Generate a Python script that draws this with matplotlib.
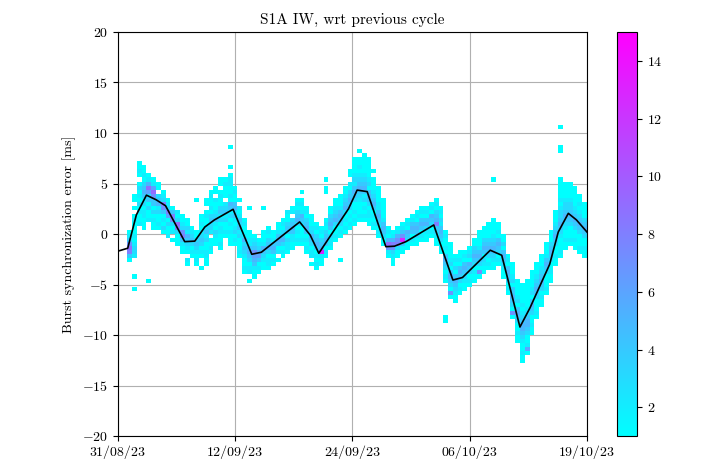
import datetime as dt
import numpy as np
import matplotlib
matplotlib.use("Agg")
import matplotlib.pyplot as plt
import matplotlib.dates as mdates

plt.rcParams['font.family'] = 'serif'
plt.rcParams['font.serif'] = ['cmr10']
plt.rcParams['mathtext.fontset'] = 'cm'
plt.rcParams['axes.formatter.use_mathtext'] = True

# start of the time axis
t0 = dt.datetime(2023, 8, 31)
t1 = dt.datetime(2023, 10, 19)

# mean line (days since 31/08/23, error in ms)
line_days = [0.0, 1.05, 1.95, 3.0, 4.0, 5.0, 7.0, 8.05, 9.1, 10.1, 12.05, 14.0, 15.0,
             19.0, 20.1, 21.0, 24.1, 25.0, 26.05, 28.0, 28.9, 30.1, 33.0, 35.0, 36.0,
             38.9, 40.1, 42.0, 43.05, 45.1, 46.0, 47.05, 47.9, 49.0]
line_vals = [-1.7, -1.4, 1.9, 3.85, 3.4, 2.8, -0.75, -0.7, 0.7, 1.4, 2.45, -2.0, -1.8,
             1.2, -0.1, -1.9, 2.5, 4.35, 4.2, -1.25, -1.2, -0.75, 0.9, -4.55, -4.3,
             -1.6, -2.1, -9.2, -7.3, -3.0, 0.2, 2.05, 1.4, 0.2]

# 2D histogram columns: (day of column start, lowest bin [ms], counts upward per 0.4 ms)
# '.' = empty, digits and a-f = counts
hist_cols = [
    (1.0, -2.8, "14897421"),
    (1.5, -5.6, "1..1....23321211121.1.11"),
    (2.0, 0.8, "21121312131.1211"),
    (2.5, 0.4, "1112213245431211"),
    (3.0, -4.8, "1.............." + "211314369521"),
    (3.5, 0.4, "1121314479621"),
    (4.0, 0.4, "121132543.11"),
    (4.5, 0.0, "13121478321"),
    (5.0, -0.4, "2113168321"),
    (5.5, -0.8, "1.2137841"),
    (6.0, -1.2, "111389312"),
    (6.5, -2.0, "1124873211"),
    (7.0, -3.2, "12.123452311"),
    (7.5, -2.4, "12134321"),
    (8.0, -3.2, "12123431" + "1" + "......." + "1"),
    (8.5, -3.6, "1..12134321211"),
    (9.0, -3.2, "11221132431121.11"),
    (9.5, -2.0, "1211.23343121121"),
    (10.0, -1.2, "112312432112.11"),
    (10.5, -1.6, "121122132431121.11"),
    (11.0, -0.4, "121132432.11121"),
    (11.5, -1.2, "111212132451211221" + ".1....1"),
    (12.0, -1.2, "121321243541121"),
    (12.5, -2.4, "1211132434212.1"),
    (13.0, -4.0, "12112343521121"),
    (13.5, -4.8, "1.22134542211" + ".....1"),
    (14.0, -4.4, "11245674321"),
    (14.5, -4.0, "121465321"),
    (15.0, -3.6, "1123452111" + ".....1"),
    (15.5, -3.6, "12213543121"),
    (16.0, -3.2, "121454211"),
    (16.5, -2.8, "1.21454211"),
    (17.0, -2.4, "1213543121"),
    (17.5, -2.0, "12231443112"),
    (18.0, -1.6, "11224543.21"),
    (18.5, -1.2, "121213543121"),
    (19.0, -1.2, "121113452121.1"),
    (19.5, -2.0, "121214543121"),
    (20.0, -3.2, "1.22134532111"),
    (20.5, -3.6, "121214543121"),
    (21.0, -3.2, "112d543121"),
    (21.5, -2.4, "1214543121" + "......11.1"),
    (22.0, -1.6, "12231454311"),
    (22.5, -0.8, "12113543211"),
    (23.0, -2.8, "1....." + "12134542111"),
    (23.5, 0.0, "121213543211"),
    (24.0, 0.4, "121213454312.11"),
    (24.5, 0.8, "12121134542321111"),
    (25.0, 1.2, "1211123454321211.1"),
    (25.5, 1.2, "12121324543211111"),
    (26.0, 0.8, "11221345413211111"),
    (26.5, 0.4, "1212145432111.1"),
    (27.0, -0.4, "1213454221111"),
    (27.5, -1.2, "113454211111"),
    (28.0, -2.4, "12795121"),
    (28.5, -3.2, "112378521"),
    (29.0, -2.4, "11387521"),
    (29.5, -2.0, "114d7421"),
    (30.0, -1.6, "11345121"),
    (30.5, -1.2, "12145421"),
    (31.0, -1.2, "113454121"),
    (31.5, -0.8, "121454121"),
    (32.0, -0.8, "112354121"),
    (32.5, -0.4, "121345121"),
    (33.0, -1.2, "112348543121"),
    (33.5, -2.0, "121345423121"),
    (34.0, -8.8, "11........" + "1213454121121"),
    (34.5, -6.4, "17134541321111"),
    (35.0, -6.8, "112345413121"),
    (35.5, -6.0, "12134541211"),
    (36.0, -5.6, "1123454121"),
    (36.5, -5.2, "1213451321"),
    (37.0, -4.8, "11213454311"),
    (37.5, -4.4, "171345421111"),
    (38.0, -4.0, "112314543111"),
    (38.5, -3.6, "121345431111"),
    (39.0, -3.6, "1123454321111" + "........." + "1"),
    (39.5, -3.2, "12134541211"),
    (40.0, -4.4, "11234541311"),
    (40.5, -6.0, "1213454121"),
    (41.0, -8.4, "17134544132111"),
    (41.5, -10.8, "1121134541321111"),
    (42.0, -12.8, "11211234554321211111"),
    (42.5, -12.0, "1621134554321111111"),
    (43.0, -10.0, "1121134541321111"),
    (43.5, -8.4, "12111345432111"),
    (44.0, -7.2, "1121345432111"),
    (44.5, -6.0, "1211134542111"),
    (45.0, -4.8, "1121134543111"),
    (45.5, -3.2, "11211345432111"),
    (46.0, -2.4, "12111234543321211111" + "......11....1"),
    (46.5, -1.6, "11211234543321111"),
    (47.0, -1.2, "1211134543321111"),
    (47.5, -1.6, "1121134543211111"),
    (48.0, -2.0, "121113454321211"),
    (48.5, -2.4, "11211345431111"),
]

dx = 0.5
dy = 0.4
x_edges_days = np.arange(0, 49 + dx / 2, dx)
y_edges = np.arange(-20, 20 + dy / 2, dy)
counts = np.zeros((len(y_edges) - 1, len(x_edges_days) - 1))
for day, lo, s in hist_cols:
    i = int(round(day / dx))
    j0 = int(round((lo + 20) / dy))
    for k, c in enumerate(s):
        if c != '.':
            counts[j0 + k, i] = int(c, 16)
counts = np.ma.masked_less(counts, 1)

x_edges = mdates.date2num(t0) + x_edges_days
line_x = mdates.date2num(t0) + np.array(line_days)

fig = plt.figure(figsize=(7.22, 4.70), dpi=100)
ax = fig.add_axes([0.163, 0.072, 0.650, 0.860])
cax = fig.add_axes([0.8546, 0.072, 0.0277, 0.860])

mesh = ax.pcolormesh(x_edges, y_edges, counts, cmap='cool', vmin=1, vmax=15)
ax.plot(line_x, line_vals, color='black', linewidth=1.2)

ax.set_xlim(mdates.date2num(t0), mdates.date2num(t1))
ax.set_ylim(-20, 20)
ax.set_xticks(np.linspace(mdates.date2num(t0), mdates.date2num(t1), 5))
ax.xaxis.set_major_formatter(mdates.DateFormatter('%d/%m/%y'))
ax.set_yticks(np.arange(-20, 21, 5))
ax.set_axisbelow(True)
ax.grid(True, color='#b0b0b0', linewidth=0.8, zorder=0)
ax.tick_params(labelsize=10)
ax.set_ylabel('Burst synchronization error [ms]', fontsize=10)
ax.set_title('S1A IW, wrt previous cycle', fontsize=11)

cb = fig.colorbar(mesh, cax=cax)
cb.set_ticks([2, 4, 6, 8, 10, 12, 14])
cb.ax.tick_params(labelsize=10)

fig.savefig('out.png', dpi=100)
